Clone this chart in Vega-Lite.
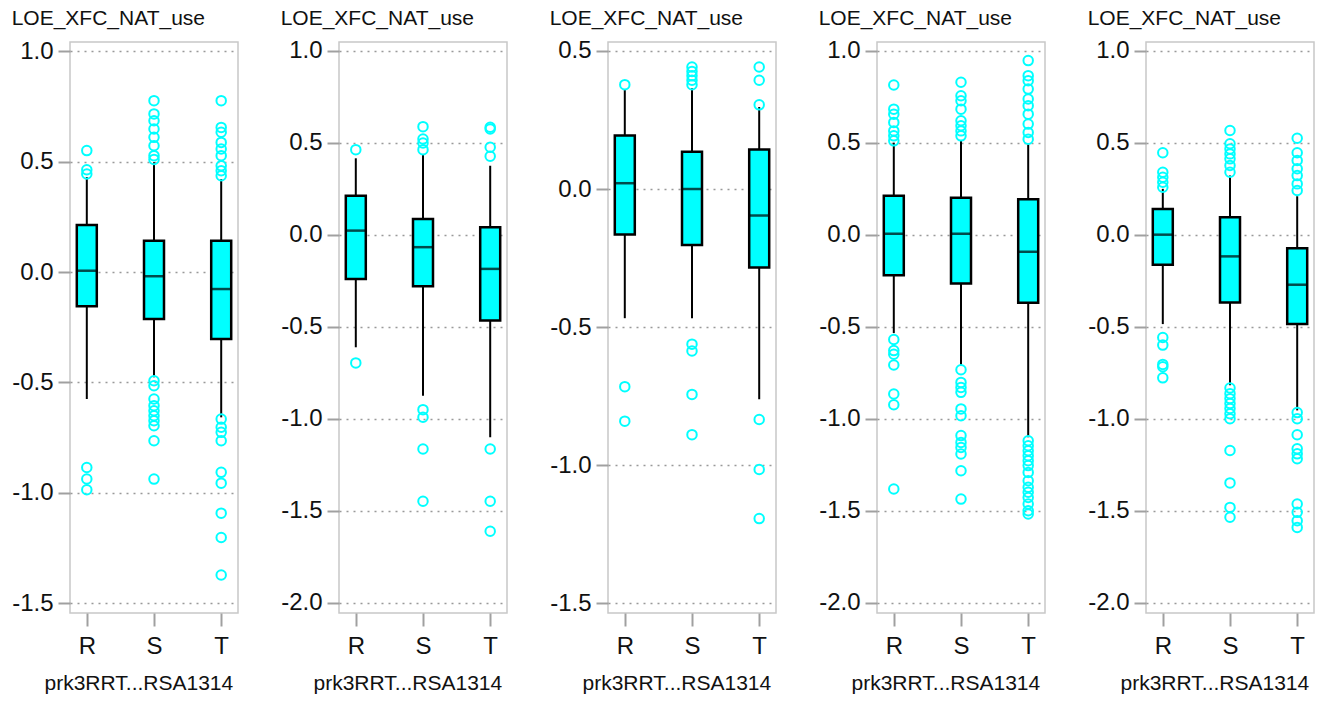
{
  "$schema": "https://vega.github.io/schema/vega-lite/v6.json",
  "padding": {"left": 10, "top": 6, "right": 5, "bottom": 5},
  "background": "white",
  "spacing": 40,
  "config": {
    "font": "Liberation Sans",
    "view": {"stroke": "#c8c8c8", "strokeWidth": 1.5},
    "axis": {"domain": false, "tickColor": "#a0a0a0", "tickWidth": 2, "labelFont": "Liberation Sans", "labelFontSize": 24, "labelColor": "#111111", "titleFont": "Liberation Sans", "titleFontWeight": "normal", "titleFontSize": 21, "titleColor": "#111111"},
    "axisY": {"grid": true, "gridColor": "#999999", "gridDash": [2, 5], "gridWidth": 1.5, "tickSize": 12, "labelPadding": 5, "labelExpr": "replace(format(datum.value, '.1f'), '\u2212', '-')"},
    "axisX": {"grid": false, "tickSize": 13, "labelPadding": 8, "labelAngle": 0, "titlePadding": 14, "titleAnchor": "start", "titleAlign": "left", "titleX": -26},
    "title": {"font": "Liberation Sans", "fontSize": 21, "fontWeight": "normal", "anchor": "start", "frame": "bounds", "color": "#111111", "offset": 10}
  },
  "datasets": {
    "boxes": [
      {"p": 1, "g": "R", "lo": -0.575, "q1": -0.155, "med": 0.006, "q3": 0.213, "hi": 0.43},
      {"p": 1, "g": "S", "lo": -0.477, "q1": -0.213, "med": -0.019, "q3": 0.142, "hi": 0.497},
      {"p": 1, "g": "T", "lo": -0.658, "q1": -0.303, "med": -0.077, "q3": 0.142, "hi": 0.421},
      {"p": 2, "g": "R", "lo": -0.612, "q1": -0.241, "med": 0.022, "q3": 0.212, "hi": 0.415},
      {"p": 2, "g": "S", "lo": -0.875, "q1": -0.28, "med": -0.068, "q3": 0.085, "hi": 0.433},
      {"p": 2, "g": "T", "lo": -1.101, "q1": -0.467, "med": -0.186, "q3": 0.04, "hi": 0.375},
      {"p": 3, "g": "R", "lo": -0.468, "q1": -0.165, "med": 0.021, "q3": 0.194, "hi": 0.361},
      {"p": 3, "g": "S", "lo": -0.468, "q1": -0.203, "med": 0.0, "q3": 0.135, "hi": 0.365},
      {"p": 3, "g": "T", "lo": -0.762, "q1": -0.284, "med": -0.096, "q3": 0.143, "hi": 0.297},
      {"p": 4, "g": "R", "lo": -0.535, "q1": -0.22, "med": 0.005, "q3": 0.211, "hi": 0.5},
      {"p": 4, "g": "S", "lo": -0.712, "q1": -0.265, "med": 0.005, "q3": 0.201, "hi": 0.51},
      {"p": 4, "g": "T", "lo": -1.101, "q1": -0.37, "med": -0.093, "q3": 0.192, "hi": 0.492},
      {"p": 5, "g": "R", "lo": -0.486, "q1": -0.163, "med": 0.0, "q3": 0.14, "hi": 0.249},
      {"p": 5, "g": "S", "lo": -0.818, "q1": -0.368, "med": -0.118, "q3": 0.094, "hi": 0.321},
      {"p": 5, "g": "T", "lo": -0.955, "q1": -0.486, "med": -0.272, "q3": -0.074, "hi": 0.209}
    ],
    "outliers": [
      {"p":1,"g":"R","v":0.55},{"p":1,"g":"R","v":0.463},{"p":1,"g":"R","v":0.444},{"p":1,"g":"R","v":-0.885},{"p":1,"g":"R","v":-0.937},{"p":1,"g":"R","v":-0.986},
      {"p":1,"g":"S","v":0.776},{"p":1,"g":"S","v":0.716},{"p":1,"g":"S","v":0.685},{"p":1,"g":"S","v":0.648},{"p":1,"g":"S","v":0.61},{"p":1,"g":"S","v":0.572},{"p":1,"g":"S","v":0.527},{"p":1,"g":"S","v":0.51},
      {"p":1,"g":"S","v":-0.492},{"p":1,"g":"S","v":-0.515},{"p":1,"g":"S","v":-0.575},{"p":1,"g":"S","v":-0.605},{"p":1,"g":"S","v":-0.628},{"p":1,"g":"S","v":-0.651},{"p":1,"g":"S","v":-0.673},{"p":1,"g":"S","v":-0.696},{"p":1,"g":"S","v":-0.764},{"p":1,"g":"S","v":-0.9375},
      {"p":1,"g":"T","v":0.776},{"p":1,"g":"T","v":0.655},{"p":1,"g":"T","v":0.633},{"p":1,"g":"T","v":0.587},{"p":1,"g":"T","v":0.557},{"p":1,"g":"T","v":0.527},{"p":1,"g":"T","v":0.481},{"p":1,"g":"T","v":0.459},{"p":1,"g":"T","v":0.436},
      {"p":1,"g":"T","v":-0.666},{"p":1,"g":"T","v":-0.703},{"p":1,"g":"T","v":-0.726},{"p":1,"g":"T","v":-0.764},{"p":1,"g":"T","v":-0.907},{"p":1,"g":"T","v":-0.956},{"p":1,"g":"T","v":-1.092},{"p":1,"g":"T","v":-1.202},{"p":1,"g":"T","v":-1.372},
      {"p":2,"g":"R","v":0.462},{"p":2,"g":"R","v":-0.697},
      {"p":2,"g":"S","v":0.587},{"p":2,"g":"S","v":0.52},{"p":2,"g":"S","v":0.498},{"p":2,"g":"S","v":0.462},{"p":2,"g":"S","v":-0.951},{"p":2,"g":"S","v":-0.992},{"p":2,"g":"S","v":-1.165},{"p":2,"g":"S","v":-1.449},
      {"p":2,"g":"T","v":0.584},{"p":2,"g":"T","v":0.574},{"p":2,"g":"T","v":0.475},{"p":2,"g":"T","v":0.426},{"p":2,"g":"T","v":-1.165},{"p":2,"g":"T","v":-1.449},{"p":2,"g":"T","v":-1.612},
      {"p":3,"g":"R","v":0.378},{"p":3,"g":"R","v":-0.716},{"p":3,"g":"R","v":-0.841},
      {"p":3,"g":"S","v":0.442},{"p":3,"g":"S","v":0.426},{"p":3,"g":"S","v":0.41},{"p":3,"g":"S","v":0.394},{"p":3,"g":"S","v":0.378},{"p":3,"g":"S","v":-0.562},{"p":3,"g":"S","v":-0.587},{"p":3,"g":"S","v":-0.744},{"p":3,"g":"S","v":-0.89},
      {"p":3,"g":"T","v":0.442},{"p":3,"g":"T","v":0.394},{"p":3,"g":"T","v":0.305},{"p":3,"g":"T","v":-0.835},{"p":3,"g":"T","v":-1.016},{"p":3,"g":"T","v":-1.194},
      {"p":4,"g":"R","v":0.813},{"p":4,"g":"R","v":0.682},{"p":4,"g":"R","v":0.655},{"p":4,"g":"R","v":0.61},{"p":4,"g":"R","v":0.564},{"p":4,"g":"R","v":0.537},{"p":4,"g":"R","v":0.51},
      {"p":4,"g":"R","v":-0.57},{"p":4,"g":"R","v":-0.63},{"p":4,"g":"R","v":-0.65},{"p":4,"g":"R","v":-0.708},{"p":4,"g":"R","v":-0.866},{"p":4,"g":"R","v":-0.924},{"p":4,"g":"R","v":-1.382},
      {"p":4,"g":"S","v":0.828},{"p":4,"g":"S","v":0.755},{"p":4,"g":"S","v":0.728},{"p":4,"g":"S","v":0.682},{"p":4,"g":"S","v":0.619},{"p":4,"g":"S","v":0.592},{"p":4,"g":"S","v":0.564},{"p":4,"g":"S","v":0.537},
      {"p":4,"g":"S","v":-0.734},{"p":4,"g":"S","v":-0.803},{"p":4,"g":"S","v":-0.83},{"p":4,"g":"S","v":-0.857},{"p":4,"g":"S","v":-0.947},{"p":4,"g":"S","v":-0.984},{"p":4,"g":"S","v":-1.092},{"p":4,"g":"S","v":-1.129},{"p":4,"g":"S","v":-1.156},{"p":4,"g":"S","v":-1.192},{"p":4,"g":"S","v":-1.283},{"p":4,"g":"S","v":-1.437},
      {"p":4,"g":"T","v":0.946},{"p":4,"g":"T","v":0.864},{"p":4,"g":"T","v":0.837},{"p":4,"g":"T","v":0.791},{"p":4,"g":"T","v":0.737},{"p":4,"g":"T","v":0.701},{"p":4,"g":"T","v":0.655},{"p":4,"g":"T","v":0.601},{"p":4,"g":"T","v":0.555},{"p":4,"g":"T","v":0.519},
      {"p":4,"g":"T","v":-1.12},{"p":4,"g":"T","v":-1.147},{"p":4,"g":"T","v":-1.174},{"p":4,"g":"T","v":-1.201},{"p":4,"g":"T","v":-1.228},{"p":4,"g":"T","v":-1.255},{"p":4,"g":"T","v":-1.292},{"p":4,"g":"T","v":-1.337},{"p":4,"g":"T","v":-1.373},{"p":4,"g":"T","v":-1.4},{"p":4,"g":"T","v":-1.428},{"p":4,"g":"T","v":-1.464},{"p":4,"g":"T","v":-1.5},{"p":4,"g":"T","v":-1.518},
      {"p":5,"g":"R","v":0.445},{"p":5,"g":"R","v":0.339},{"p":5,"g":"R","v":0.312},{"p":5,"g":"R","v":0.285},{"p":5,"g":"R","v":0.258},{"p":5,"g":"R","v":-0.559},{"p":5,"g":"R","v":-0.6},{"p":5,"g":"R","v":-0.705},{"p":5,"g":"R","v":-0.718},{"p":5,"g":"R","v":-0.778},
      {"p":5,"g":"S","v":0.566},{"p":5,"g":"S","v":0.494},{"p":5,"g":"S","v":0.466},{"p":5,"g":"S","v":0.439},{"p":5,"g":"S","v":0.412},{"p":5,"g":"S","v":0.376},{"p":5,"g":"S","v":0.339},
      {"p":5,"g":"S","v":-0.833},{"p":5,"g":"S","v":-0.864},{"p":5,"g":"S","v":-0.891},{"p":5,"g":"S","v":-0.918},{"p":5,"g":"S","v":-0.945},{"p":5,"g":"S","v":-0.973},{"p":5,"g":"S","v":-1.0},{"p":5,"g":"S","v":-1.173},{"p":5,"g":"S","v":-1.349},{"p":5,"g":"S","v":-1.482},{"p":5,"g":"S","v":-1.536},
      {"p":5,"g":"T","v":0.524},{"p":5,"g":"T","v":0.445},{"p":5,"g":"T","v":0.403},{"p":5,"g":"T","v":0.358},{"p":5,"g":"T","v":0.321},{"p":5,"g":"T","v":0.276},{"p":5,"g":"T","v":0.24},
      {"p":5,"g":"T","v":-0.967},{"p":5,"g":"T","v":-1.0},{"p":5,"g":"T","v":-1.087},{"p":5,"g":"T","v":-1.164},{"p":5,"g":"T","v":-1.191},{"p":5,"g":"T","v":-1.218},{"p":5,"g":"T","v":-1.464},{"p":5,"g":"T","v":-1.509},{"p":5,"g":"T","v":-1.555},{"p":5,"g":"T","v":-1.591}
    ]
  },
  "hconcat": [
    {
      "title": "LOE_XFC_NAT_use", "width": 168, "height": 571,
      "encoding": {"x": {"field": "g", "type": "nominal", "scale": {"type": "point", "padding": 0.25, "domain": ["R", "S", "T"]}, "axis": {"title": "prk3RRT...RSA1314"}}},
      "layer": [
        {"data": {"name": "boxes"}, "transform": [{"filter": "datum.p == 1"}], "mark": {"type": "rule", "color": "black", "strokeWidth": 2},
         "encoding": {"y": {"field": "lo", "type": "quantitative", "title": null, "scale": {"domain": [-1.544, 1.0417], "nice": false, "zero": false}, "axis": {"values": [1, 0.5, 0, -0.5, -1, -1.5]}}, "y2": {"field": "hi"}}},
        {"data": {"name": "boxes"}, "transform": [{"filter": "datum.p == 1"}], "mark": {"type": "bar", "width": 20, "fill": "#00ffff", "stroke": "black", "strokeWidth": 2.5},
         "encoding": {"y": {"field": "q1", "type": "quantitative", "title": null}, "y2": {"field": "q3"}}},
        {"data": {"name": "boxes"}, "transform": [{"filter": "datum.p == 1"}], "mark": {"type": "tick", "color": "black", "size": 21, "thickness": 2.5},
         "encoding": {"y": {"field": "med", "type": "quantitative", "title": null}}},
        {"data": {"name": "outliers"}, "transform": [{"filter": "datum.p == 1"}], "mark": {"type": "point", "shape": "circle", "filled": false, "color": "#00ffff", "strokeWidth": 2, "size": 90, "opacity": 1},
         "encoding": {"y": {"field": "v", "type": "quantitative", "title": null}}}
      ]
    },
    {
      "title": "LOE_XFC_NAT_use", "width": 168, "height": 571,
      "encoding": {"x": {"field": "g", "type": "nominal", "scale": {"type": "point", "padding": 0.25, "domain": ["R", "S", "T"]}, "axis": {"title": "prk3RRT...RSA1314"}}},
      "layer": [
        {"data": {"name": "boxes"}, "transform": [{"filter": "datum.p == 2"}], "mark": {"type": "rule", "color": "black", "strokeWidth": 2},
         "encoding": {"y": {"field": "lo", "type": "quantitative", "title": null, "scale": {"domain": [-2.056, 1.047], "nice": false, "zero": false}, "axis": {"values": [1, 0.5, 0, -0.5, -1, -1.5, -2]}}, "y2": {"field": "hi"}}},
        {"data": {"name": "boxes"}, "transform": [{"filter": "datum.p == 2"}], "mark": {"type": "bar", "width": 20, "fill": "#00ffff", "stroke": "black", "strokeWidth": 2.5},
         "encoding": {"y": {"field": "q1", "type": "quantitative", "title": null}, "y2": {"field": "q3"}}},
        {"data": {"name": "boxes"}, "transform": [{"filter": "datum.p == 2"}], "mark": {"type": "tick", "color": "black", "size": 21, "thickness": 2.5},
         "encoding": {"y": {"field": "med", "type": "quantitative", "title": null}}},
        {"data": {"name": "outliers"}, "transform": [{"filter": "datum.p == 2"}], "mark": {"type": "point", "shape": "circle", "filled": false, "color": "#00ffff", "strokeWidth": 2, "size": 90, "opacity": 1},
         "encoding": {"y": {"field": "v", "type": "quantitative", "title": null}}}
      ]
    },
    {
      "title": "LOE_XFC_NAT_use", "width": 168, "height": 571,
      "encoding": {"x": {"field": "g", "type": "nominal", "scale": {"type": "point", "padding": 0.25, "domain": ["R", "S", "T"]}, "axis": {"title": "prk3RRT...RSA1314"}}},
      "layer": [
        {"data": {"name": "boxes"}, "transform": [{"filter": "datum.p == 3"}], "mark": {"type": "rule", "color": "black", "strokeWidth": 2},
         "encoding": {"y": {"field": "lo", "type": "quantitative", "title": null, "scale": {"domain": [-1.536, 0.5326], "nice": false, "zero": false}, "axis": {"values": [0.5, 0, -0.5, -1, -1.5]}}, "y2": {"field": "hi"}}},
        {"data": {"name": "boxes"}, "transform": [{"filter": "datum.p == 3"}], "mark": {"type": "bar", "width": 20, "fill": "#00ffff", "stroke": "black", "strokeWidth": 2.5},
         "encoding": {"y": {"field": "q1", "type": "quantitative", "title": null}, "y2": {"field": "q3"}}},
        {"data": {"name": "boxes"}, "transform": [{"filter": "datum.p == 3"}], "mark": {"type": "tick", "color": "black", "size": 21, "thickness": 2.5},
         "encoding": {"y": {"field": "med", "type": "quantitative", "title": null}}},
        {"data": {"name": "outliers"}, "transform": [{"filter": "datum.p == 3"}], "mark": {"type": "point", "shape": "circle", "filled": false, "color": "#00ffff", "strokeWidth": 2, "size": 90, "opacity": 1},
         "encoding": {"y": {"field": "v", "type": "quantitative", "title": null}}}
      ]
    },
    {
      "title": "LOE_XFC_NAT_use", "width": 168, "height": 571,
      "encoding": {"x": {"field": "g", "type": "nominal", "scale": {"type": "point", "padding": 0.25, "domain": ["R", "S", "T"]}, "axis": {"title": "prk3RRT...RSA1314"}}},
      "layer": [
        {"data": {"name": "boxes"}, "transform": [{"filter": "datum.p == 4"}], "mark": {"type": "rule", "color": "black", "strokeWidth": 2},
         "encoding": {"y": {"field": "lo", "type": "quantitative", "title": null, "scale": {"domain": [-2.056, 1.047], "nice": false, "zero": false}, "axis": {"values": [1, 0.5, 0, -0.5, -1, -1.5, -2]}}, "y2": {"field": "hi"}}},
        {"data": {"name": "boxes"}, "transform": [{"filter": "datum.p == 4"}], "mark": {"type": "bar", "width": 20, "fill": "#00ffff", "stroke": "black", "strokeWidth": 2.5},
         "encoding": {"y": {"field": "q1", "type": "quantitative", "title": null}, "y2": {"field": "q3"}}},
        {"data": {"name": "boxes"}, "transform": [{"filter": "datum.p == 4"}], "mark": {"type": "tick", "color": "black", "size": 21, "thickness": 2.5},
         "encoding": {"y": {"field": "med", "type": "quantitative", "title": null}}},
        {"data": {"name": "outliers"}, "transform": [{"filter": "datum.p == 4"}], "mark": {"type": "point", "shape": "circle", "filled": false, "color": "#00ffff", "strokeWidth": 2, "size": 90, "opacity": 1},
         "encoding": {"y": {"field": "v", "type": "quantitative", "title": null}}}
      ]
    },
    {
      "title": "LOE_XFC_NAT_use", "width": 168, "height": 571,
      "encoding": {"x": {"field": "g", "type": "nominal", "scale": {"type": "point", "padding": 0.25, "domain": ["R", "S", "T"]}, "axis": {"title": "prk3RRT...RSA1314"}}},
      "layer": [
        {"data": {"name": "boxes"}, "transform": [{"filter": "datum.p == 5"}], "mark": {"type": "rule", "color": "black", "strokeWidth": 2},
         "encoding": {"y": {"field": "lo", "type": "quantitative", "title": null, "scale": {"domain": [-2.056, 1.047], "nice": false, "zero": false}, "axis": {"values": [1, 0.5, 0, -0.5, -1, -1.5, -2]}}, "y2": {"field": "hi"}}},
        {"data": {"name": "boxes"}, "transform": [{"filter": "datum.p == 5"}], "mark": {"type": "bar", "width": 20, "fill": "#00ffff", "stroke": "black", "strokeWidth": 2.5},
         "encoding": {"y": {"field": "q1", "type": "quantitative", "title": null}, "y2": {"field": "q3"}}},
        {"data": {"name": "boxes"}, "transform": [{"filter": "datum.p == 5"}], "mark": {"type": "tick", "color": "black", "size": 21, "thickness": 2.5},
         "encoding": {"y": {"field": "med", "type": "quantitative", "title": null}}},
        {"data": {"name": "outliers"}, "transform": [{"filter": "datum.p == 5"}], "mark": {"type": "point", "shape": "circle", "filled": false, "color": "#00ffff", "strokeWidth": 2, "size": 90, "opacity": 1},
         "encoding": {"y": {"field": "v", "type": "quantitative", "title": null}}}
      ]
    }
  ]
}
